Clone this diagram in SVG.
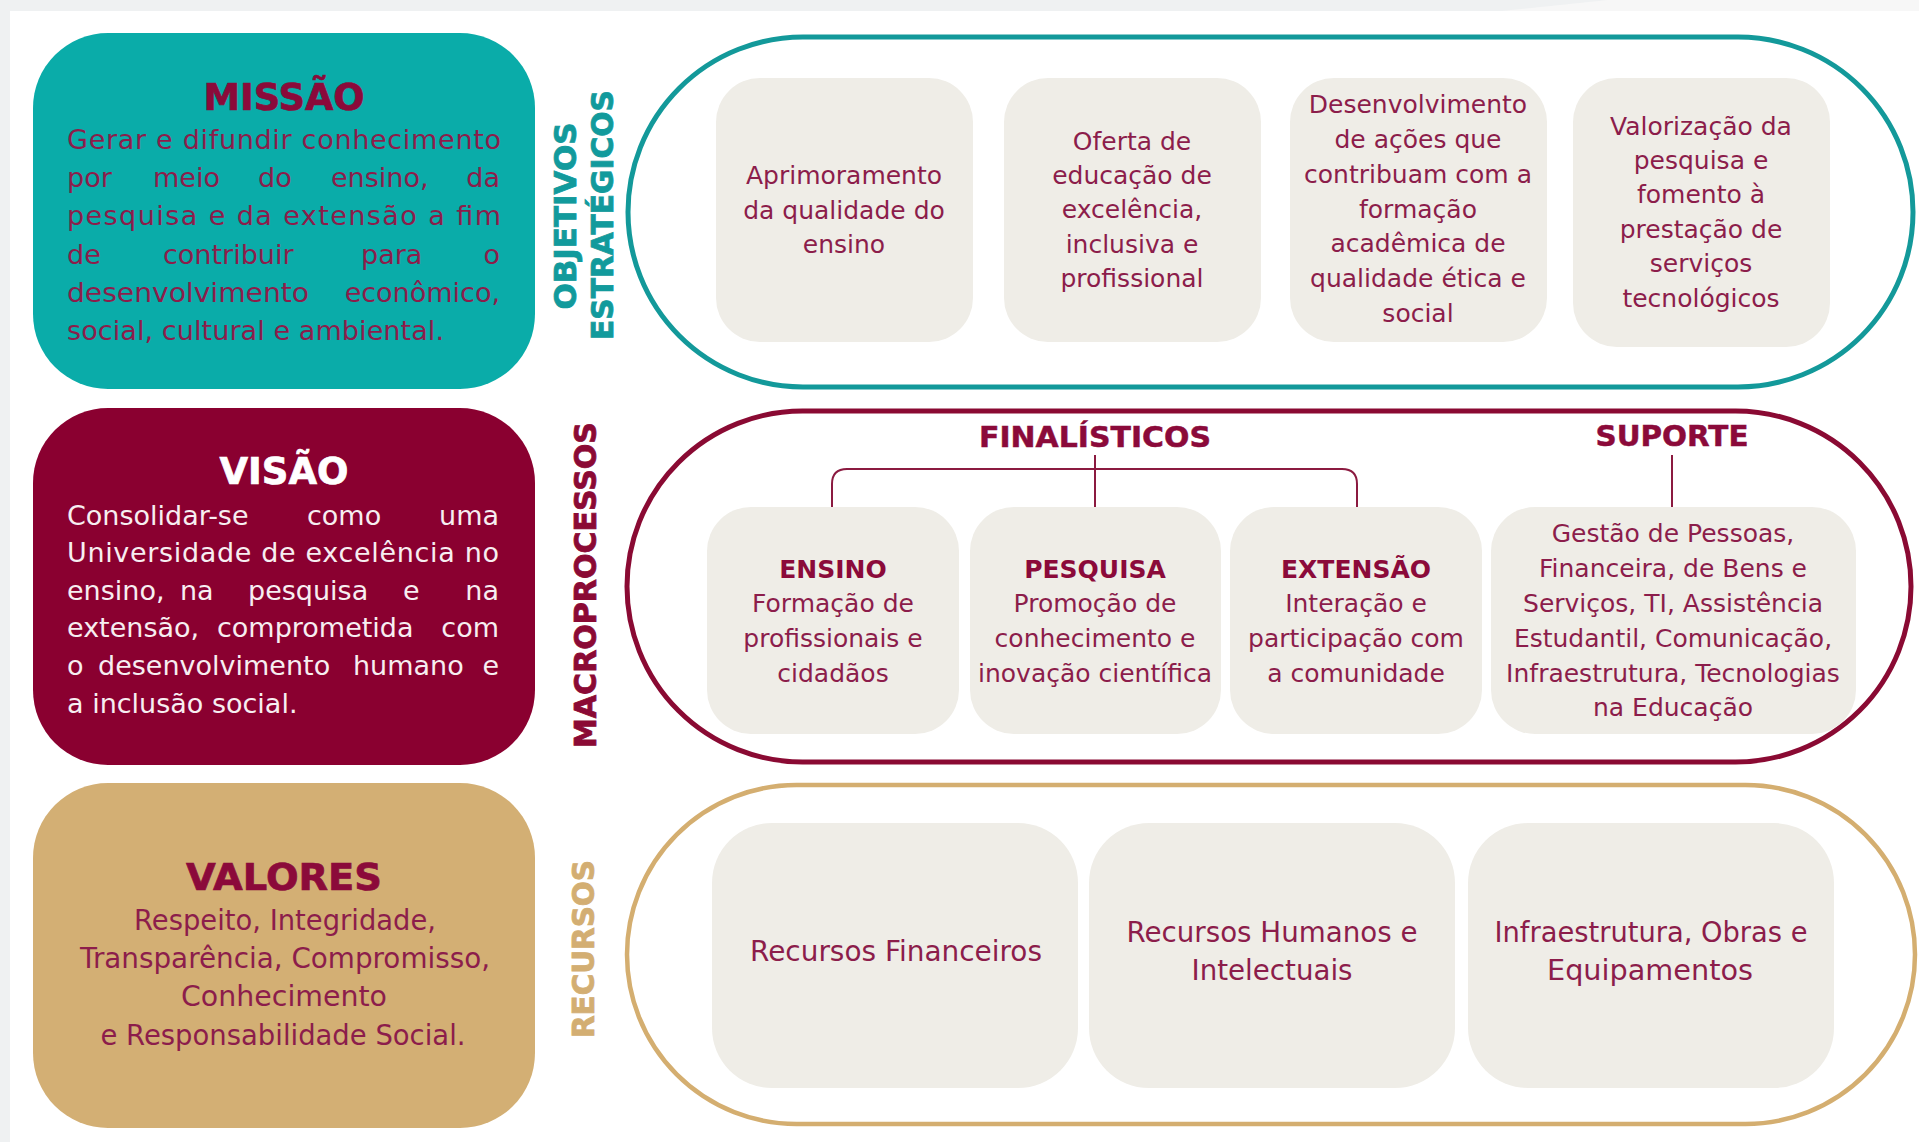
<svg xmlns="http://www.w3.org/2000/svg" width="1919" height="1142" viewBox="0 0 1919 1142">
<style>
text{font-family:"DejaVu Sans","Liberation Sans",sans-serif;}
.ttl{font-weight:bold;font-size:37px;text-anchor:middle;stroke-width:0.7;}
.lb{font-size:27px;fill:#8c1d4b;}
.lw{font-size:27px;fill:#f7eef1;}
.e{text-anchor:end;}
.lc{font-size:28px;fill:#8c1d4b;text-anchor:middle;}
.bx{font-size:25px;fill:#8c1d4b;text-anchor:middle;}
.bh{font-size:25px;font-weight:bold;fill:#8b0a3a;text-anchor:middle;}
.sec{font-size:29px;font-weight:bold;fill:#8b0a3a;stroke:#8b0a3a;stroke-width:0.5;text-anchor:middle;}
.vl{font-size:30px;font-weight:bold;text-anchor:middle;stroke-width:0.8;}
.cr{fill:#8b0a3a;stroke:#8b0a3a;}
.wh{fill:#ffffff;stroke:#ffffff;}
.tl{fill:#129a9c;stroke:#129a9c;}
.mc{fill:#8b0a35;stroke:#8b0a35;}
.tn{fill:#d3ae72;stroke:#d3ae72;}
.card{fill:#efede7;}
.conn{fill:none;stroke:#8b1a40;stroke-width:2;}
</style>
<rect x="0" y="0" width="1919" height="1142" fill="#eff1f2"/>
<polygon points="1608,0 1919,0 1919,11 1502,11" fill="#f7f7f7"/>
<rect x="10" y="11" width="1909" height="1131" fill="#ffffff"/>

<g id="missao">
<rect x="33" y="33" width="502" height="356" rx="75" fill="#0aaca9"/>
<text class="ttl cr" x="284" y="110" textLength="161" lengthAdjust="spacingAndGlyphs">MISSÃO</text>
<text class="lb" x="67" y="149" textLength="434" lengthAdjust="spacing">Gerar e difundir conhecimento</text>
<text class="lb" y="187"><tspan x="67">por</tspan><tspan x="153">meio</tspan><tspan x="258">do</tspan><tspan x="331">ensino,</tspan></text>
<text class="lb e" x="500" y="187">da</text>
<text class="lb" x="67" y="225" textLength="434" lengthAdjust="spacing">pesquisa e da extensão a fim</text>
<text class="lb" y="264"><tspan x="67">de</tspan><tspan x="163">contribuir</tspan><tspan x="361">para</tspan></text>
<text class="lb e" x="500" y="264">o</text>
<text class="lb" x="67" y="302" textLength="242" lengthAdjust="spacingAndGlyphs">desenvolvimento</text>
<text class="lb e" x="500" y="302">econômico,</text>
<text class="lb" x="67" y="340" textLength="377" lengthAdjust="spacing">social, cultural e ambiental.</text>
</g>

<g id="visao">
<rect x="33" y="408" width="502" height="357" rx="75" fill="#8a0030"/>
<text class="ttl wh" x="284" y="484" textLength="129" lengthAdjust="spacingAndGlyphs">VISÃO</text>
<text class="lw" y="525"><tspan x="67">Consolidar-se</tspan><tspan x="307">como</tspan></text>
<text class="lw e" x="499" y="525">uma</text>
<text class="lw" x="67" y="562" textLength="432" lengthAdjust="spacing">Universidade de excelência no</text>
<text class="lw" y="600"><tspan x="67">ensino,</tspan><tspan x="180">na</tspan><tspan x="248">pesquisa</tspan><tspan x="403">e</tspan></text>
<text class="lw e" x="499" y="600">na</text>
<text class="lw" y="637"><tspan x="67">extensão,</tspan><tspan x="217">comprometida</tspan></text>
<text class="lw e" x="499" y="637">com</text>
<text class="lw" y="675"><tspan x="67">o</tspan><tspan x="98">desenvolvimento</tspan><tspan x="353">humano</tspan></text>
<text class="lw e" x="499" y="675">e</text>
<text class="lw" x="67" y="713">a inclusão social.</text>
</g>

<g id="valores">
<rect x="33" y="783" width="502" height="345" rx="75" fill="#d3af74"/>
<text class="ttl cr" x="284" y="890" textLength="196" lengthAdjust="spacingAndGlyphs">VALORES</text>
<text class="lc" x="285" y="930" textLength="302" lengthAdjust="spacingAndGlyphs">Respeito, Integridade,</text>
<text class="lc" x="285" y="968" textLength="410" lengthAdjust="spacingAndGlyphs">Transparência, Compromisso,</text>
<text class="lc" x="284" y="1006" textLength="206" lengthAdjust="spacingAndGlyphs">Conhecimento</text>
<text class="lc" x="283" y="1045" textLength="365" lengthAdjust="spacingAndGlyphs">e Responsabilidade Social.</text>
</g>

<g id="label-objetivos">
<text class="vl tl" transform="translate(576,216) rotate(-90)" textLength="187" lengthAdjust="spacingAndGlyphs">OBJETIVOS</text>
<text class="vl tl" transform="translate(613,215) rotate(-90)" textLength="250" lengthAdjust="spacingAndGlyphs">ESTRATÉGICOS</text>
</g>
<g id="label-macroprocessos">
<text class="vl mc" transform="translate(596,585) rotate(-90)" textLength="326" lengthAdjust="spacingAndGlyphs">MACROPROCESSOS</text>
</g>
<g id="label-recursos">
<text class="vl tn" transform="translate(594,949) rotate(-90)" textLength="178" lengthAdjust="spacingAndGlyphs">RECURSOS</text>
</g>

<g id="objetivos">
<rect x="628" y="37" width="1285" height="350" rx="175" fill="none" stroke="#13999a" stroke-width="5"/>
<g id="obj1">
<rect class="card" x="716" y="78" width="257" height="264" rx="44"/>
<text class="bx" x="844" y="184">Aprimoramento</text>
<text class="bx" x="844" y="219">da qualidade do</text>
<text class="bx" x="844" y="253">ensino</text>
</g>
<g id="obj2">
<rect class="card" x="1004" y="78" width="257" height="264" rx="44"/>
<text class="bx" x="1132" y="150">Oferta de</text>
<text class="bx" x="1132" y="184">educação de</text>
<text class="bx" x="1132" y="218">excelência,</text>
<text class="bx" x="1132" y="253">inclusiva e</text>
<text class="bx" x="1132" y="287">profissional</text>
</g>
<g id="obj3">
<rect class="card" x="1290" y="78" width="257" height="264" rx="44"/>
<text class="bx" x="1418" y="113">Desenvolvimento</text>
<text class="bx" x="1418" y="148">de ações que</text>
<text class="bx" x="1418" y="183">contribuam com a</text>
<text class="bx" x="1418" y="218">formação</text>
<text class="bx" x="1418" y="252">acadêmica de</text>
<text class="bx" x="1418" y="287">qualidade ética e</text>
<text class="bx" x="1418" y="322">social</text>
</g>
<g id="obj4">
<rect class="card" x="1573" y="78" width="257" height="269" rx="44"/>
<text class="bx" x="1701" y="135">Valorização da</text>
<text class="bx" x="1701" y="169">pesquisa e</text>
<text class="bx" x="1701" y="203">fomento à</text>
<text class="bx" x="1701" y="238">prestação de</text>
<text class="bx" x="1701" y="272">serviços</text>
<text class="bx" x="1701" y="307">tecnológicos</text>
</g>
</g>

<g id="macroprocessos">
<rect x="627" y="411" width="1284" height="351" rx="175.5" fill="none" stroke="#8a0a33" stroke-width="5"/>
<g id="finalisticos">
<text class="sec" x="1095" y="447" textLength="232" lengthAdjust="spacingAndGlyphs">FINALÍSTICOS</text>
</g>
<g id="suporte">
<text class="sec" x="1672" y="446" textLength="153" lengthAdjust="spacingAndGlyphs">SUPORTE</text>
</g>
<g id="ensino">
<rect class="card" x="707" y="507" width="252" height="227" rx="44"/>
<text class="bh" x="833" y="578">ENSINO</text>
<text class="bx" x="833" y="612">Formação de</text>
<text class="bx" x="833" y="647">profissionais e</text>
<text class="bx" x="833" y="682">cidadãos</text>
</g>
<g id="pesquisa">
<rect class="card" x="970" y="507" width="251" height="227" rx="44"/>
<text class="bh" x="1095" y="578">PESQUISA</text>
<text class="bx" x="1095" y="612">Promoção de</text>
<text class="bx" x="1095" y="647">conhecimento e</text>
<text class="bx" x="1095" y="682">inovação científica</text>
</g>
<g id="extensao">
<rect class="card" x="1230" y="507" width="252" height="227" rx="44"/>
<text class="bh" x="1356" y="578">EXTENSÃO</text>
<text class="bx" x="1356" y="612">Interação e</text>
<text class="bx" x="1356" y="647">participação com</text>
<text class="bx" x="1356" y="682">a comunidade</text>
</g>
<g id="suporte-box">
<rect class="card" x="1491" y="507" width="365" height="227" rx="44"/>
<text class="bx" x="1673" y="542">Gestão de Pessoas,</text>
<text class="bx" x="1673" y="577">Financeira, de Bens e</text>
<text class="bx" x="1673" y="612">Serviços, TI, Assistência</text>
<text class="bx" x="1673" y="647">Estudantil, Comunicação,</text>
<text class="bx" x="1673" y="682">Infraestrutura, Tecnologias</text>
<text class="bx" x="1673" y="716">na Educação</text>
</g>
</g>

<g id="recursos">
<rect x="627" y="785" width="1288" height="339" rx="169.5" fill="none" stroke="#d4ae70" stroke-width="4.5"/>
<g id="rec1">
<rect class="card" x="712" y="823" width="366" height="265" rx="60"/>
<text class="lc" x="896" y="961" textLength="292" lengthAdjust="spacingAndGlyphs">Recursos Financeiros</text>
</g>
<g id="rec2">
<rect class="card" x="1089" y="823" width="366" height="265" rx="60"/>
<text class="lc" x="1272" y="942" textLength="291" lengthAdjust="spacingAndGlyphs">Recursos Humanos e</text>
<text class="lc" x="1272" y="980" textLength="161" lengthAdjust="spacingAndGlyphs">Intelectuais</text>
</g>
<g id="rec3">
<rect class="card" x="1468" y="823" width="366" height="265" rx="60"/>
<text class="lc" x="1651" y="942" textLength="313" lengthAdjust="spacingAndGlyphs">Infraestrutura, Obras e</text>
<text class="lc" x="1650" y="980" textLength="206" lengthAdjust="spacingAndGlyphs">Equipamentos</text>
</g>
</g>

<g id="connectors">
<path class="conn" d="M832,507 V484 Q832,469 847,469 H1342 Q1357,469 1357,484 V507"/>
<path class="conn" d="M1095,455 V507"/>
<path class="conn" d="M1672,455 V507"/>
</g>
</svg>
